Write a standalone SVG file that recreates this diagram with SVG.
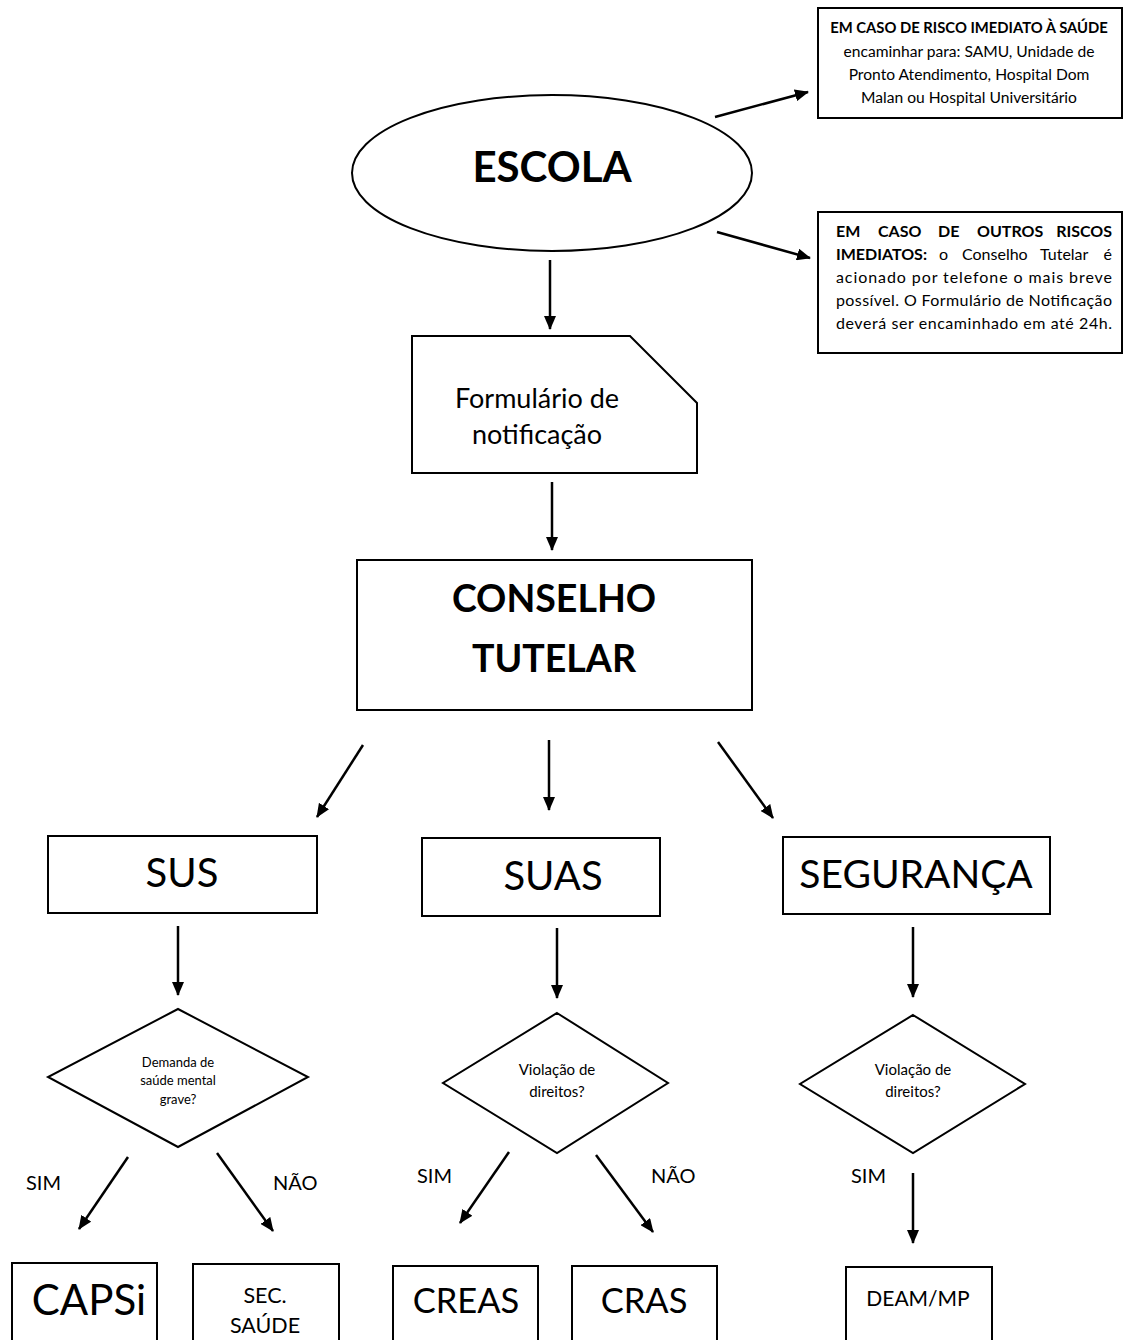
<svg xmlns="http://www.w3.org/2000/svg" width="1124" height="1340" viewBox="0 0 1124 1340">
<style>
text{font-family:Lato,"Liberation Sans",sans-serif;fill:#000;}
.s{fill:#fff;stroke:#000;stroke-width:2;}
.c{fill:none;stroke:#000;stroke-width:2.5;marker-end:url(#ah);}
.m{text-anchor:middle;}
.b{font-weight:bold;}
</style>
<defs>
<marker id="ah" markerUnits="userSpaceOnUse" markerWidth="14" markerHeight="12" refX="13" refY="6" orient="auto">
<path d="M0,0 L14,6 L0,12 z" fill="#000"/>
</marker>
</defs>
<rect width="1124" height="1340" fill="#fff"/>

<g id="risco-saude">
<rect class="s" x="818" y="8" width="304" height="110"/>
<text class="m b" x="969" y="33" font-size="14.8">EM CASO DE RISCO IMEDIATO À SAÚDE</text>
<text class="m" x="969" y="57" font-size="15.6">encaminhar para: SAMU, Unidade de</text>
<text class="m" x="969" y="80" font-size="15.6">Pronto Atendimento, Hospital Dom</text>
<text class="m" x="969" y="103" font-size="15.6">Malan ou Hospital Universitário</text>
</g>

<g id="outros-riscos">
<rect class="s" x="818" y="212" width="304" height="141"/>
<text class="b" y="237" font-size="16"><tspan x="836">EM</tspan> <tspan x="878">CASO</tspan> <tspan x="938">DE</tspan> <tspan x="977">OUTROS</tspan> <tspan x="1112" text-anchor="end">RISCOS</tspan></text>
<text y="260" font-size="16"><tspan x="836" class="b">IMEDIATOS:</tspan> <tspan x="939">o</tspan> <tspan x="962">Conselho</tspan> <tspan x="1040">Tutelar</tspan> <tspan x="1112" text-anchor="end">é</tspan></text>
<text x="836" y="283" font-size="16" textLength="276" lengthAdjust="spacing">acionado por telefone o mais breve</text>
<text x="836" y="306" font-size="16" textLength="276" lengthAdjust="spacing">possível. O Formulário de Notificação</text>
<text x="836" y="329" font-size="16" textLength="276" lengthAdjust="spacing">deverá ser encaminhado em até 24h.</text>
</g>

<g id="escola">
<ellipse class="s" cx="552" cy="173" rx="200" ry="78"/>
<text class="m b" x="552" y="182" font-size="42">ESCOLA</text>
</g>

<g id="formulario">
<path class="s" d="M412,336 L630,336 L697,403 L697,473 L412,473 z"/>
<text class="m" x="537" y="408" font-size="27">Formulário de</text>
<text class="m" x="537" y="444" font-size="27">notificação</text>
</g>

<g id="conselho">
<rect class="s" x="357" y="560" width="395" height="150"/>
<text class="m b" x="554" y="612" font-size="37.5">CONSELHO</text>
<text class="m b" x="554" y="672" font-size="37.5">TUTELAR</text>
</g>

<g id="sus">
<rect class="s" x="48" y="836" width="269" height="77"/>
<text class="m" x="182" y="887" font-size="40">SUS</text>
</g>
<g id="suas">
<rect class="s" x="422" y="838" width="238" height="78"/>
<text class="m" x="553" y="890" font-size="40">SUAS</text>
</g>
<g id="seguranca">
<rect class="s" x="783" y="837" width="267" height="77"/>
<text class="m" x="916" y="888" font-size="39">SEGURANÇA</text>
</g>

<g id="dec-sus">
<path class="s" d="M178,1009 L308,1077 L178,1147 L48,1077 z"/>
<text class="m" x="178" y="1067" font-size="13">Demanda de</text>
<text class="m" x="178" y="1085" font-size="13">saúde mental</text>
<text class="m" x="178" y="1104" font-size="13">grave?</text>
</g>
<g id="dec-suas">
<path class="s" d="M557,1013 L668,1083 L557,1153 L443,1083 z"/>
<text class="m" x="557" y="1075" font-size="15">Violação de</text>
<text class="m" x="557" y="1097" font-size="15">direitos?</text>
</g>
<g id="dec-seg">
<path class="s" d="M913,1015 L1025,1084 L913,1153 L800,1084 z"/>
<text class="m" x="913" y="1075" font-size="15">Violação de</text>
<text class="m" x="913" y="1097" font-size="15">direitos?</text>
</g>

<g id="capsi">
<rect class="s" x="12" y="1263" width="145" height="90"/>
<text class="m" x="89" y="1315" font-size="42">CAPSi</text>
</g>
<g id="sec-saude">
<rect class="s" x="193" y="1264" width="146" height="90"/>
<text class="m" x="265" y="1303" font-size="21.5">SEC.</text>
<text class="m" x="265" y="1333" font-size="21.5">SAÚDE</text>
</g>
<g id="creas">
<rect class="s" x="393" y="1266" width="145" height="90"/>
<text class="m" x="466" y="1313" font-size="34.5">CREAS</text>
</g>
<g id="cras">
<rect class="s" x="572" y="1266" width="145" height="90"/>
<text class="m" x="644" y="1313" font-size="34.5">CRAS</text>
</g>
<g id="deam">
<rect class="s" x="846" y="1267" width="146" height="90"/>
<text class="m" x="918" y="1306" font-size="21">DEAM/MP</text>
</g>

<g id="labels">
<text x="26" y="1190" font-size="20">SIM</text>
<text x="273" y="1190" font-size="20">NÃO</text>
<text x="417" y="1183" font-size="20">SIM</text>
<text x="651" y="1183" font-size="20">NÃO</text>
<text x="851" y="1183" font-size="20">SIM</text>
</g>

<g id="connectors">
<line class="c" x1="715" y1="117" x2="808" y2="92"/>
<line class="c" x1="717" y1="232" x2="810" y2="258"/>
<line class="c" x1="550" y1="260" x2="550" y2="329"/>
<line class="c" x1="552" y1="482" x2="552" y2="550"/>
<line class="c" x1="363" y1="745" x2="317" y2="817"/>
<line class="c" x1="549" y1="740" x2="549" y2="810"/>
<line class="c" x1="718" y1="742" x2="773" y2="818"/>
<line class="c" x1="178" y1="926" x2="178" y2="995"/>
<line class="c" x1="557" y1="928" x2="557" y2="998"/>
<line class="c" x1="913" y1="927" x2="913" y2="997"/>
<line class="c" x1="128" y1="1157" x2="79" y2="1229"/>
<line class="c" x1="217" y1="1153" x2="273" y2="1231"/>
<line class="c" x1="509" y1="1152" x2="460" y2="1223"/>
<line class="c" x1="596" y1="1155" x2="653" y2="1232"/>
<line class="c" x1="913" y1="1173" x2="913" y2="1243"/>
</g>
</svg>
